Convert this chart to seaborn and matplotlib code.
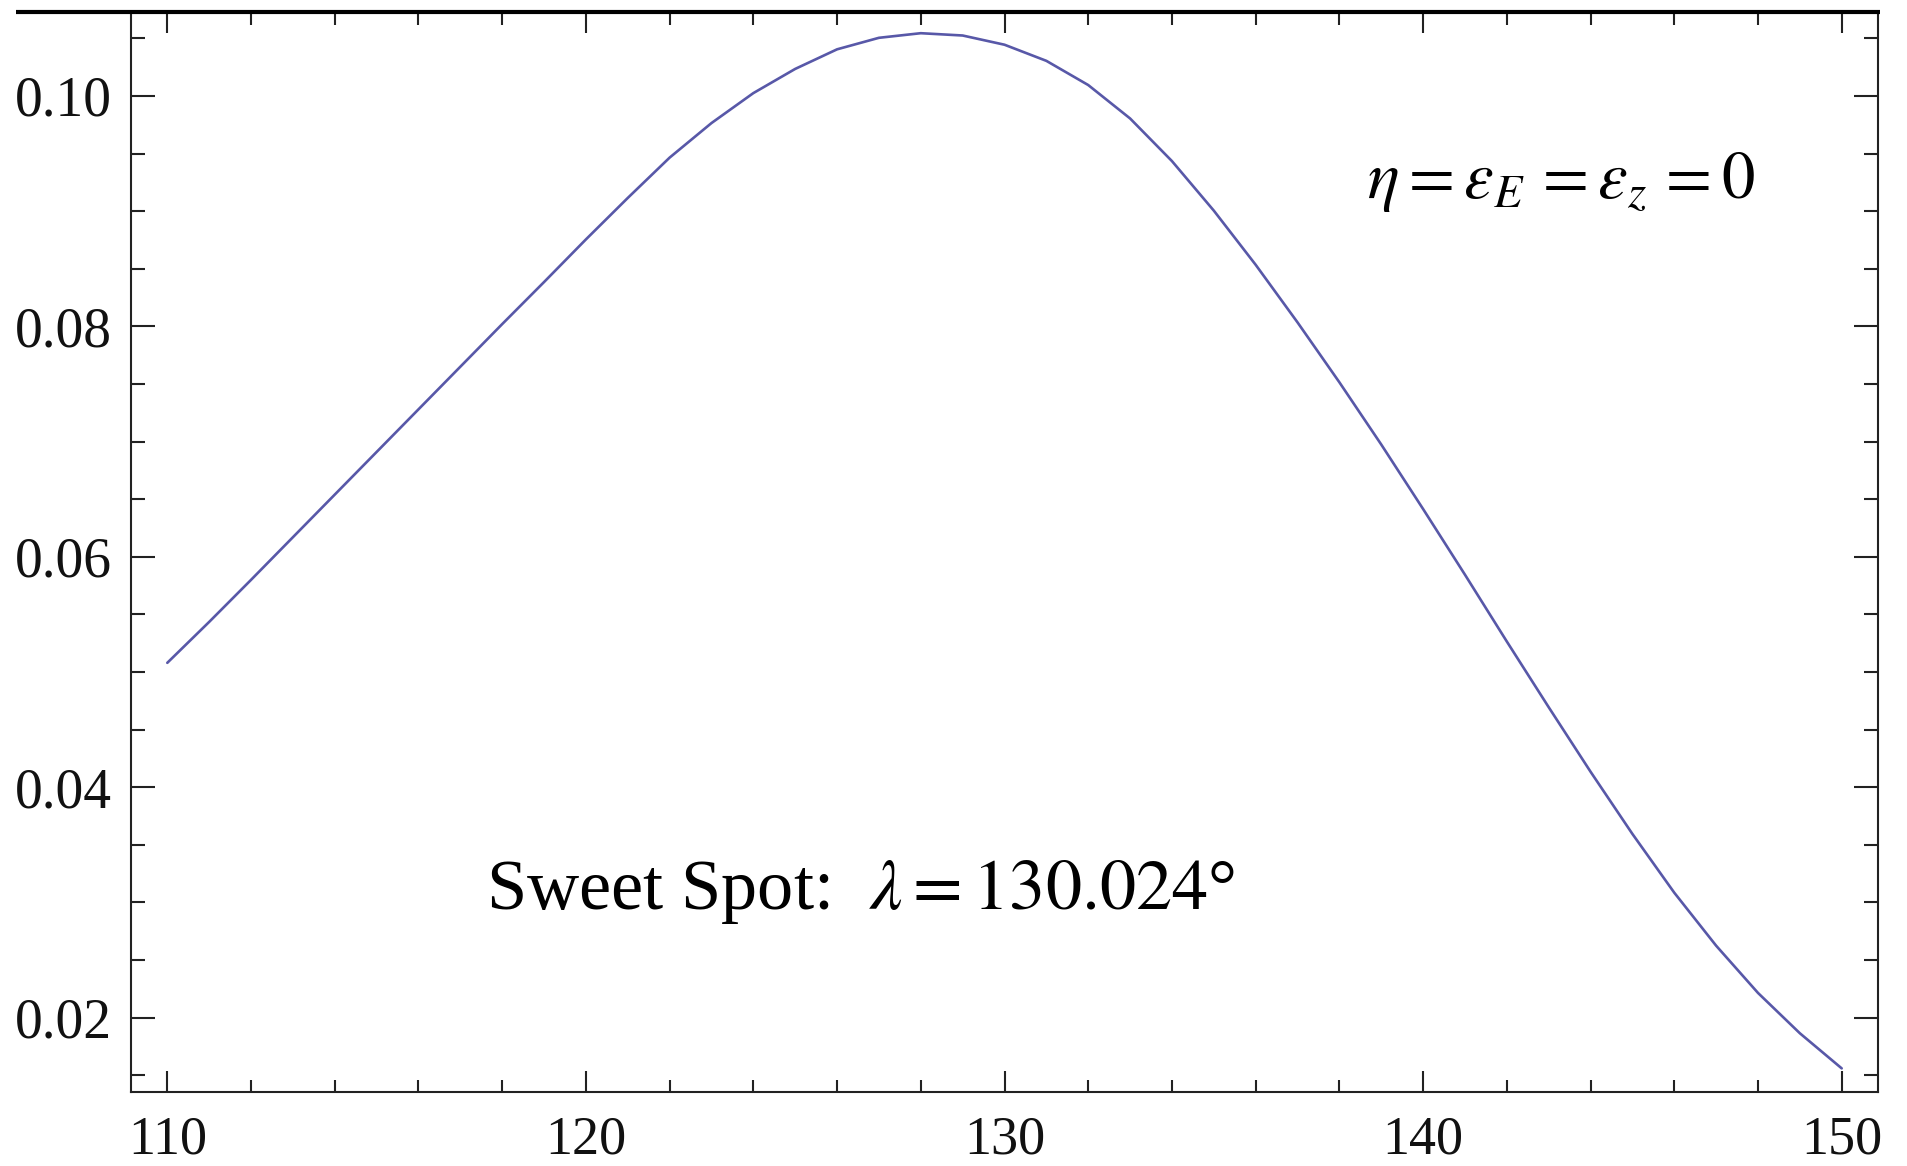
import matplotlib
matplotlib.use("Agg")
import matplotlib.pyplot as plt
from matplotlib.lines import Line2D
from matplotlib.ticker import MultipleLocator, FormatStrFormatter
import seaborn as sns
import pandas as pd

# Longitude lambda (degrees) and the plotted quantity
lam_deg = [110, 111, 112, 113, 114, 115, 116, 117, 118, 119,
           120, 121, 122, 123, 124, 125, 126, 127, 128, 129,
           130, 131, 132, 133, 134, 135, 136, 137, 138, 139,
           140, 141, 142, 143, 144, 145, 146, 147, 148, 149, 150]
value = [0.05080, 0.05435, 0.05800, 0.06170, 0.06540, 0.06910, 0.07280, 0.07650, 0.08020, 0.08385,
         0.08755, 0.09115, 0.09465, 0.09765, 0.10025, 0.10235, 0.10405, 0.10505, 0.10545, 0.10525,
         0.10445, 0.10305, 0.10095, 0.09805, 0.09435, 0.09005, 0.08535, 0.08035, 0.07515, 0.06975,
         0.06415, 0.05845, 0.05265, 0.04695, 0.04135, 0.03595, 0.03085, 0.02625, 0.02215, 0.01865, 0.01560]

x_ticks = [110, 120, 130, 140, 150]
y_ticks = [0.02, 0.04, 0.06, 0.08, 0.10]

sns.set_theme(style="white")
plt.rcParams["font.family"] = ["Liberation Serif", "DejaVu Serif"]
plt.rcParams["mathtext.fontset"] = "stix"

W, H = 1907, 1166
fig = plt.figure(figsize=(W / 100, H / 100), dpi=100)
ax = fig.add_axes([131 / W, 1 - 1092 / H, (1878 - 131) / W, (1092 - 12) / H])

df = pd.DataFrame({"lam": lam_deg, "val": value})
sns.lineplot(data=df, x="lam", y="val", ax=ax, color="#5858a8", linewidth=1.9)

ax.set_xlim(109.133, 150.867)
ax.set_ylim(0.01355, 0.10729)
ax.set_xlabel("")
ax.set_ylabel("")

ax.xaxis.set_minor_locator(MultipleLocator(2))
ax.yaxis.set_minor_locator(MultipleLocator(0.005))
ax.set_xticks(x_ticks)
ax.set_yticks(y_ticks)
ax.yaxis.set_major_formatter(FormatStrFormatter("%.2f"))

for s in ax.spines.values():
    s.set_color("#222222")
    s.set_linewidth(1.5)
    s.set_visible(True)
ax.spines["top"].set_visible(False)

ax.tick_params(axis="both", which="both", direction="in", top=True, right=True,
               bottom=True, left=True, color="#222222", width=1.5)
ax.tick_params(axis="y", which="major", length=17, labelsize=40, pad=14)
ax.tick_params(axis="y", which="minor", length=10)
ax.tick_params(axis="x", which="major", length=15, labelsize=39, pad=16.5)
ax.tick_params(axis="x", which="minor", length=9)
for lab in ax.get_xticklabels() + ax.get_yticklabels():
    lab.set_color("#111111")

# heavy top rule running across the figure
fig.add_artist(Line2D([16 / W, 1880 / W], [1 - 12 / H, 1 - 12 / H],
                      transform=fig.transFigure, color="black", linewidth=3.0,
                      solid_capstyle="butt"))

fig.text(1367 / W, 1 - 198 / H,
         r"$\eta = \varepsilon_E\, = \varepsilon_z\, = 0$",
         fontsize=48, ha="left", va="baseline", color="black")
fig.text(486 / W, 1 - 909 / H, r"Sweet Spot:  $\lambda = 130.024$°",
         fontsize=52, ha="left", va="baseline", color="black")

fig.savefig("out.png", dpi=100)
